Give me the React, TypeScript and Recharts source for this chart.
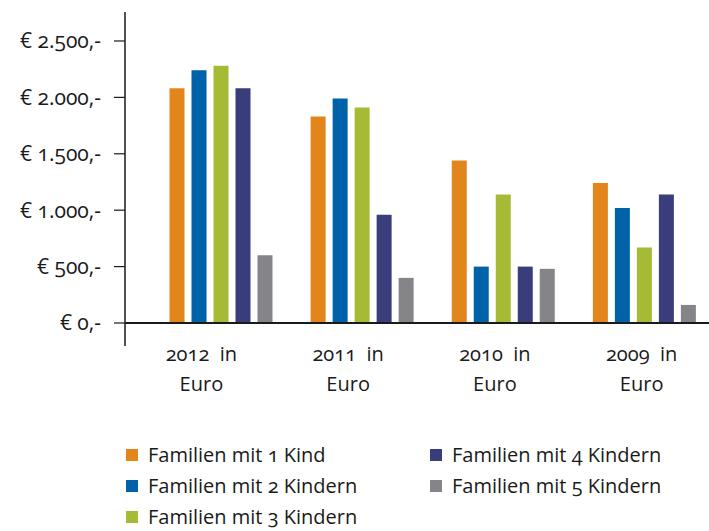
import React from 'react';
import { BarChart, Bar, XAxis, YAxis, ReferenceLine, Legend } from 'recharts';

const years = ['2012', '2011', '2010', '2009'];
const oneChild = [2080, 1830, 1440, 1240];
const twoChildren = [2240, 1990, 500, 1020];
const threeChildren = [2280, 1910, 1140, 670];
const fourChildren = [2080, 960, 500, 1140];
const fiveChildren = [600, 400, 480, 160];
const yTicks = [0, 500, 1000, 1500, 2000, 2500];

const series = [
  { key: 'k1', name: 'Familien mit 1 Kind', color: '#E2861C', values: oneChild },
  { key: 'k2', name: 'Familien mit 2 Kindern', color: '#0062A9', values: twoChildren },
  { key: 'k3', name: 'Familien mit 3 Kindern', color: '#A6BA36', values: threeChildren },
  { key: 'k4', name: 'Familien mit 4 Kindern', color: '#3A3D7C', values: fourChildren },
  { key: 'k5', name: 'Familien mit 5 Kindern', color: '#858589', values: fiveChildren },
];

const data = years.map((year, i) => {
  const row: Record<string, string | number> = { year };
  series.forEach((s) => {
    row[s.key] = s.values[i];
  });
  return row;
});

const FONT = '"Open Sans", sans-serif';
const TEXT = '#1a1a1a';

const euro = (v: number) => `€ ${String(v).replace(/\B(?=(\d{3})+(?!\d))/g, '.')},-`;

const YearTick = (props: any) => {
  const { x, y, payload } = props;
  return (
    <g transform={`translate(${x},${y})`}>
      <text
        textAnchor="middle"
        fontFamily={FONT}
        fontSize={20}
        fill={TEXT}
        style={{ fontVariantNumeric: 'oldstyle-nums', whiteSpace: 'pre' }}
      >
        <tspan x={0} dy={7}>{`${payload.value}  in`}</tspan>
        <tspan x={0} dy={30}>Euro</tspan>
      </text>
    </g>
  );
};

const LegendBox = (props: any) => {
  const items = props.payload || [];
  return (
    <div
      style={{
        display: 'grid',
        gridTemplateColumns: '304px auto',
        gridTemplateRows: 'repeat(3, 31px)',
        gridAutoFlow: 'column',
        fontFamily: FONT,
        fontSize: 20,
        lineHeight: '20px',
        color: TEXT,
        fontVariantNumeric: 'oldstyle-nums',
      }}
    >
      {items.map((it: any) => (
        <div key={it.value} style={{ display: 'flex', alignItems: 'center' }}>
          <span style={{ width: 12, height: 12, background: it.color, marginRight: 10, display: 'inline-block' }} />
          <span>{it.value}</span>
        </div>
      ))}
    </div>
  );
};

export default function App() {
  return (
    <div style={{ position: 'absolute', left: 0, top: 0, width: 709, height: 531, overflow: 'hidden', background: '#fff' }}>
      <BarChart
        width={715}
        height={531}
        data={data}
        margin={{ top: 12, right: 0, left: 0, bottom: 125 }}
        barSize={15}
        barGap={7}
      >
        <XAxis dataKey="year" hide height={0} padding={{ left: 25.5, right: 0 }} />
        <XAxis
          xAxisId="lbl"
          dataKey="year"
          axisLine={false}
          tickLine={false}
          height={60}
          padding={{ left: 3, right: 0 }}
          tick={<YearTick />}
          interval={0}
        />
        <YAxis
          width={125}
          domain={[-204, 2757]}
          allowDataOverflow
          ticks={yTicks}
          tickFormatter={euro}
          tickSize={11}
          tickMargin={13}
          axisLine={{ stroke: TEXT, strokeWidth: 1.5 }}
          tickLine={{ stroke: TEXT, strokeWidth: 1.2 }}
          tick={{ fontFamily: FONT, fontSize: 21, fill: TEXT, style: { fontVariantNumeric: 'oldstyle-nums' } }}
        />
        <ReferenceLine y={0} stroke={TEXT} strokeWidth={1.8} />
        {series.map((s) => (
          <Bar key={s.key} dataKey={s.key} name={s.name} fill={s.color} isAnimationActive={false} />
        ))}
        <Legend
          layout="horizontal"
          verticalAlign="middle"
          content={<LegendBox />}
          wrapperStyle={{ position: 'absolute', left: 126, top: 439, width: 570 }}
        />
      </BarChart>
    </div>
  );
}
